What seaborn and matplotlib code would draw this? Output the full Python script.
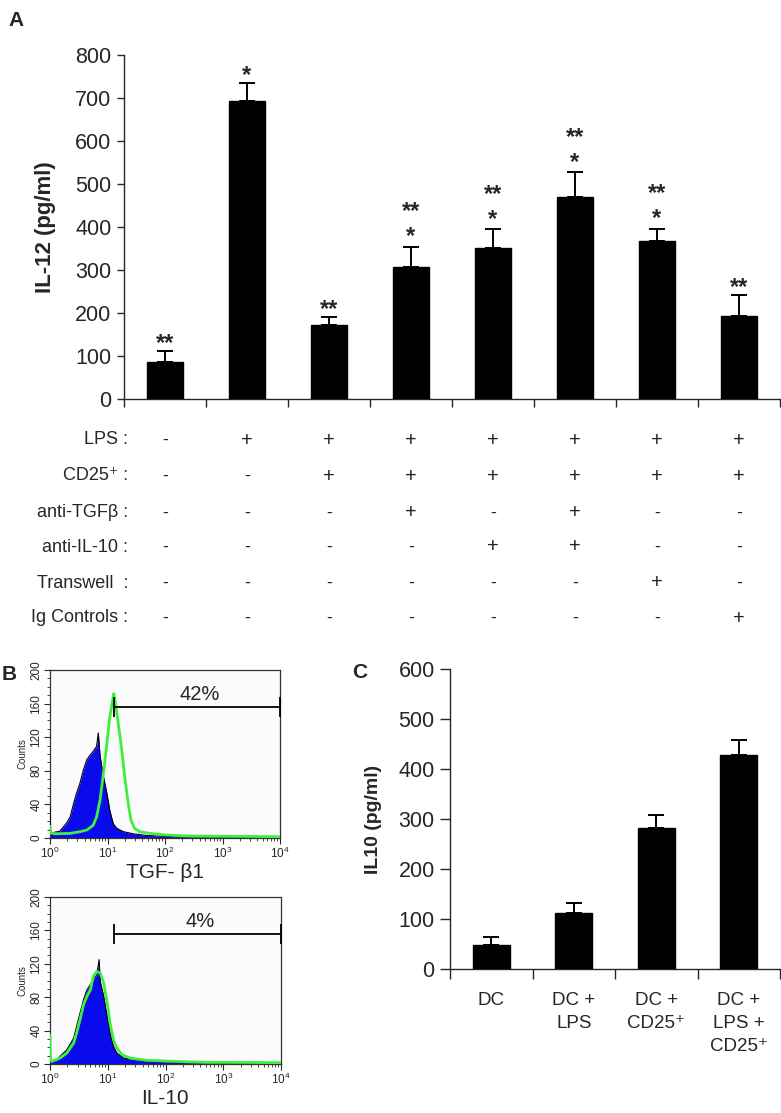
import numpy as np
import pandas as pd
import matplotlib
matplotlib.use("Agg")
import matplotlib.pyplot as plt
import seaborn as sns
from matplotlib.transforms import blended_transform_factory
from matplotlib.ticker import LogLocator, MultipleLocator, NullFormatter

# ---------------- data ----------------
# Panel A
condA = ["c1", "c2", "c3", "c4", "c5", "c6", "c7", "c8"]
il12 = [87, 694, 171, 308, 350, 470, 368, 193]
il12_err = [25, 40, 19, 46, 45, 57, 28, 49]
sig_low = ["**", "*", "**", "*", "*", "*", "*", "**"]
sig_high = ["", "", "", "**", "**", "**", "**", ""]
table_rows = ["LPS :", "CD25\u207a :", "anti-TGF\u03b2 :", "anti-IL-10 :", "Transwell  :", "Ig Controls :"]
table_vals = [
    ["-", "+", "+", "+", "+", "+", "+", "+"],
    ["-", "-", "+", "+", "+", "+", "+", "+"],
    ["-", "-", "-", "+", "-", "+", "-", "-"],
    ["-", "-", "-", "-", "+", "+", "-", "-"],
    ["-", "-", "-", "-", "-", "-", "+", "-"],
    ["-", "-", "-", "-", "-", "-", "-", "+"],
]
yticksA = [0, 100, 200, 300, 400, 500, 600, 700, 800]

# Panel C
condC = ["DC", "DC +\nLPS", "DC +\nCD25\u207a", "DC +\nLPS +\nCD25\u207a"]
il10 = [48, 112, 283, 428]
il10_err = [16, 20, 25, 30]
yticksC = [0, 100, 200, 300, 400, 500, 600]

# Panel B (log10 fluorescence, counts)
top_blue_log = [0.0, 0.01, 0.03, 0.09, 0.17, 0.23, 0.29, 0.35, 0.41, 0.46, 0.52, 0.58, 0.64, 0.70, 0.75, 0.81,
                0.84, 0.87, 0.90, 0.93, 0.99, 1.04, 1.10, 1.16, 1.28, 1.45, 1.68, 2.15, 2.72, 3.30, 3.88, 4.0]
top_blue_cnt = [37, 8, 6, 7, 8, 13, 18, 25, 41, 53, 65, 81, 93, 99, 103, 109,
                125, 99, 85, 73, 53, 33, 17, 11.5, 7.5, 5, 3, 1.5, 1, 0.5, 0.3, 0.3]
top_green_log = [0.0, 0.01, 0.1, 0.35, 0.52, 0.64, 0.75, 0.81, 0.87, 0.93, 0.99, 1.04, 1.09, 1.11, 1.14,
                 1.18, 1.24, 1.30, 1.36, 1.41, 1.47, 1.56, 1.74, 2.03, 2.43, 3.0, 3.5, 4.0]
top_green_cnt = [14, 6, 5, 5.5, 7.5, 9.5, 15, 25, 45, 77, 113, 144, 164, 172, 160,
                 140, 109, 73, 41, 21, 11.5, 7.5, 5.5, 3.5, 2.4, 2, 1.8, 1.5]
bot_blue_log = [0.0, 0.01, 0.09, 0.17, 0.29, 0.41, 0.46, 0.52, 0.58, 0.64, 0.70, 0.75, 0.81, 0.85, 0.87,
                0.93, 0.99, 1.04, 1.10, 1.16, 1.28, 1.57, 2.15, 2.72, 3.3, 4.0]
bot_blue_cnt = [10, 3, 3, 9, 17, 31, 45, 61, 77, 89, 95, 101, 107, 125, 99,
                81, 57, 37, 21, 13, 7, 4.4, 2, 1, 0.5, 0.3]
bot_green_log = [0.0, 0.01, 0.03, 0.17, 0.29, 0.41, 0.46, 0.52, 0.58, 0.64, 0.70, 0.75, 0.81, 0.87, 0.93,
                 0.99, 1.04, 1.10, 1.16, 1.25, 1.39, 1.68, 2.15, 2.72, 3.5, 4.0]
bot_green_cnt = [34, 5, 3, 7, 13, 25, 37, 53, 71, 81, 89, 105, 111, 109, 97,
                 73, 49, 29, 19, 11, 7, 4.4, 3.2, 2, 1.8, 1.6]
gate_start_log = [1.12, 1.11]
gate_level = [156, 156]
gate_text = ["42%", "4%"]
hist_xlabels = ["TGF- \u03b21", "IL-10"]

# ---------------- style ----------------
sns.set_style("ticks")
plt.rcParams["font.family"] = ["Liberation Sans", "DejaVu Sans"]
plt.rcParams["mathtext.fontset"] = "custom"
plt.rcParams["mathtext.rm"] = "Liberation Sans"
plt.rcParams["axes.linewidth"] = 1.0

W, H = 781, 1113
fig = plt.figure(figsize=(W / 100, H / 100), dpi=100)
fig.patch.set_facecolor("white")


def px_axes(l, t, r, b):
    return fig.add_axes([l / W, 1 - b / H, (r - l) / W, (b - t) / H])


def fy(p):
    return 1 - p / H


# ---------------- Panel A ----------------
axA = px_axes(124, 55, 780, 399)
dfA = pd.DataFrame({"cond": condA, "val": il12})
sns.barplot(data=dfA, x="cond", y="val", color="black", width=0.43, ax=axA,
            edgecolor="black", errorbar=None, zorder=3)
xA = np.arange(len(condA))
axA.errorbar(xA, il12, yerr=[np.zeros(len(il12)), il12_err], fmt="none", ecolor="black",
             elinewidth=1.4, capsize=6, capthick=1.4, zorder=2)
for i in range(len(condA)):
    top = il12[i] + il12_err[i]
    if sig_high[i]:
        axA.annotate(sig_low[i], (i, top), xytext=(0, 2.5), textcoords="offset points",
                     ha="center", va="baseline", fontsize=17, fontweight="bold")
        axA.annotate(sig_high[i], (i, top), xytext=(0, 20.5), textcoords="offset points",
                     ha="center", va="baseline", fontsize=17, fontweight="bold")
    else:
        axA.annotate(sig_low[i], (i, top), xytext=(0, 0.8), textcoords="offset points",
                     ha="center", va="baseline", fontsize=17, fontweight="bold")
axA.set_xlim(-0.5, 7.5)
axA.set_ylim(0, 800)
axA.set_yticks(yticksA)
axA.set_xticks(np.arange(-0.5, 8.0, 1.0))
axA.set_xticklabels([])
axA.tick_params(axis="y", labelsize=15.5, length=5, width=1, pad=4)
axA.tick_params(axis="x", length=6, width=1)
axA.set_xlabel("")
axA.set_ylabel("IL-12 (pg/ml)", fontsize=16, fontweight="bold", labelpad=14)
sns.despine(ax=axA)

# table
trans = blended_transform_factory(axA.transData, fig.transFigure)
row_y = [440, 476, 513, 547, 583, 618]
for r, (lab, vals) in enumerate(zip(table_rows, table_vals)):
    fig.text(128 / W, fy(row_y[r]), lab, ha="right", va="center", fontsize=13)
    for i, v in enumerate(vals):
        axA.text(i, fy(row_y[r]), v, transform=trans, ha="center", va="center",
                 fontsize=14.5 if v == "+" else 13)

fig.text(8 / W, fy(20), "A", fontsize=15, fontweight="bold", ha="left", va="center")

# ---------------- Panel C ----------------
axC = px_axes(450, 669, 780, 969)
dfC = pd.DataFrame({"cond": condC, "val": il10})
sns.barplot(data=dfC, x="cond", y="val", color="black", width=0.45, ax=axC,
            edgecolor="black", errorbar=None, zorder=3)
xC = np.arange(len(condC))
axC.errorbar(xC, il10, yerr=[np.zeros(len(il10)), il10_err], fmt="none", ecolor="black",
             elinewidth=1.4, capsize=6, capthick=1.4, zorder=2)
axC.set_xlim(-0.5, 3.5)
axC.set_ylim(0, 600)
axC.set_yticks(yticksC)
axC.set_xticks(np.arange(-0.5, 4.0, 1.0))
axC.set_xticklabels([])
axC.tick_params(axis="y", labelsize=15.5, length=7, width=1, pad=4)
axC.tick_params(axis="x", length=7, width=1)
axC.set_xlabel("")
axC.set_ylabel("IL10 (pg/ml)", fontsize=14, fontweight="bold", labelpad=12)
sns.despine(ax=axC)
transC = blended_transform_factory(axC.transData, fig.transFigure)
for i, lab in enumerate(condC):
    axC.text(i, fy(992), lab, transform=transC, ha="center", va="top", fontsize=13.5,
             linespacing=1.45, multialignment="center")
fig.text(352 / W, fy(673), "C", fontsize=15, fontweight="bold", ha="left", va="center")

# ---------------- Panel B ----------------
axB1 = px_axes(50, 670, 280, 838)
axB2 = px_axes(50, 897, 281, 1064)
hists = [
    (axB1, top_blue_log, top_blue_cnt, top_green_log, top_green_cnt),
    (axB2, bot_blue_log, bot_blue_cnt, bot_green_log, bot_green_cnt),
]
for k, (ax, bl, bc, gl, gc) in enumerate(hists):
    ax.set_facecolor("#fbfbfe")
    bx = 10 ** np.array(bl)
    ax.fill_between(bx, bc, 0, color="#0a0aee", linewidth=0, zorder=2)
    ax.plot(bx, bc, color="black", lw=0.8, zorder=3)
    dfg = pd.DataFrame({"x": 10 ** np.array(gl), "y": gc})
    sns.lineplot(data=dfg, x="x", y="y", ax=ax, color="#3ef03e", lw=2.0, zorder=4,
                 estimator=None, sort=False)
    ax.set_xscale("log")
    ax.set_xlim(1, 1e4)
    ax.set_ylim(0, 200)
    ax.set_yticks([0, 40, 80, 120, 160, 200])
    ax.yaxis.set_minor_locator(MultipleLocator(10))
    ax.xaxis.set_major_locator(LogLocator(base=10, numticks=10))
    ax.xaxis.set_minor_locator(LogLocator(base=10, subs=np.arange(2, 10), numticks=10))
    ax.xaxis.set_minor_formatter(NullFormatter())
    ax.tick_params(axis="both", which="major", labelsize=8.5, length=4, width=0.8, pad=1.5)
    ax.tick_params(axis="both", which="minor", length=2.2, width=0.6)
    for lab in ax.get_yticklabels():
        lab.set_rotation(90)
        lab.set_va("center")
    ax.set_ylabel("Counts", fontsize=7, labelpad=2)
    ax.set_xlabel("")
    for s in ax.spines.values():
        s.set_visible(True)
        s.set_linewidth(0.9)
        s.set_color("#333333")
    # gate marker
    g0 = 10 ** gate_start_log[k]
    ax.plot([g0, 1e4], [gate_level[k], gate_level[k]], color="black", lw=1.3, zorder=5, clip_on=False)
    ax.vlines([g0, 1e4], gate_level[k] - 12, gate_level[k] + 12, color="black", lw=1.3, zorder=5,
              clip_on=False)
    ax.text(10 ** 2.6, gate_level[k] + 3, gate_text[k], ha="center", va="bottom", fontsize=14.5)

fig.text(165 / W, fy(873), hist_xlabels[0], ha="center", va="center", fontsize=15)
fig.text(165 / W, fy(1098), hist_xlabels[1], ha="center", va="center", fontsize=15)
fig.text(2 / W, fy(674), "B", fontsize=15, fontweight="bold", ha="left", va="center")

fig.savefig("out.png", dpi=100, facecolor="white")
